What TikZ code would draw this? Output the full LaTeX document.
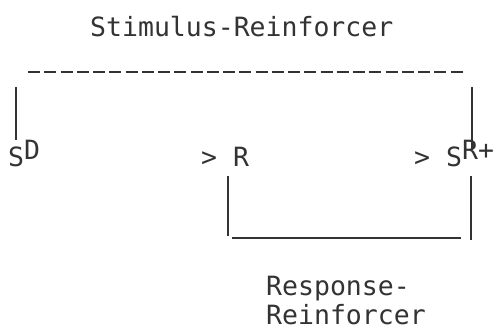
\documentclass[tikz,border=0pt]{standalone}
\usepackage{fontspec}
\setmonofont{DejaVu Sans Mono}
\begin{document}
\begin{tikzpicture}[x=1pt,y=-1pt,
  lbl/.style={anchor=base west,inner sep=0pt,text=black!80,
    font=\ttfamily\fontsize{26.5}{29}\selectfont},
  link/.style={draw=black!80,line width=1.3pt},
  dashlink/.style={link,dash pattern=on 12pt off 4.25pt}]
\useasboundingbox (0,0) rectangle (497,331);
\fill[white] (0,0) rectangle (497,331);

% labels
\node[lbl] (title) at (90,37) {Stimulus-Reinforcer};
\node[lbl] (sd) at (8,166) {S\raisebox{7pt}{D}};
\node[lbl] (r) at (201,166) {> R};
\node[lbl] (srp) at (414,166) {> S\raisebox{7pt}{R+}};
\node[lbl] (rlabA) at (266,295) {Response-};
\node[lbl] (rlabB) at (266,324) {Reinforcer};

% stimulus-reinforcer bracket (dashed top)
\coordinate (sdtop) at (16,87);
\coordinate (sdbot) at (16,140);
\coordinate (srtop) at (472,87);
\coordinate (srbot) at (472,150);
\coordinate (dl) at (28,72);
\coordinate (dr) at (463,72);
\draw[link] (sdtop) -- (sdbot);
\draw[link] (srtop) -- (srbot);
\draw[dashlink] (dl) -- (dr);

% response-reinforcer bracket (solid bottom)
\coordinate (rtop) at (228,176);
\coordinate (rbot) at (228,236);
\coordinate (s2top) at (471,176);
\coordinate (s2bot) at (471,240);
\coordinate (hl) at (232,238);
\coordinate (hr) at (461,238);
\draw[link] (rtop) -- (rbot);
\draw[link] (s2top) -- (s2bot);
\draw[link] (hl) -- (hr);
\end{tikzpicture}
\end{document}
